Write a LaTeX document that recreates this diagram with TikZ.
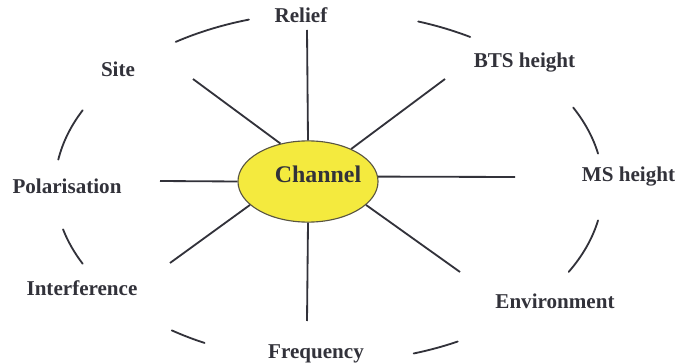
\documentclass[tikz,border=0pt]{standalone}
\usepackage{fontspec}
\setmainfont{Liberation Serif}
\usetikzlibrary{positioning, calc, shapes.geometric}

\definecolor{chanyellow}{RGB}{244,234,62}
\definecolor{inkgray}{RGB}{50,50,58}

\begin{document}
\begin{tikzpicture}[x=0.025cm, y=0.025cm,
    factor/.style={font=\bfseries\fontsize{15}{18}\selectfont, text=inkgray, anchor=base, inner sep=0pt},
    spoke/.style={draw=inkgray, line width=1.3pt},
    rim/.style={draw=inkgray, line width=1.3pt, line cap=round}]
    \useasboundingbox (0,0) rectangle (676,362);
    % channel in the middle
    \node[ellipse, draw=black!75!yellow, line width=0.8pt, fill=chanyellow, minimum width=3.5cm, minimum height=2.03cm, inner sep=0pt] (ch) at (308,180.5) {};
    \node[font=\bfseries\fontsize{17}{20}\selectfont, text=inkgray, anchor=base, inner sep=0pt] (chtext) at (318,179) {Channel};
    % factors
    \node[factor] (relief) at (301,339) {Relief};
    \node[factor] (site) at (118,285) {Site};
    \node[factor] (bts) at (524.5,294) {BTS height};
    \node[factor] (ms) at (628.5,180) {MS height};
    \node[factor] (polar) at (67,169) {Polarisation};
    \node[factor] (interf) at (82,67) {Interference};
    \node[factor] (freq) at (316,4) {Frequency};
    \node[factor] (env) at (555,54) {Environment};
    % spokes
    \coordinate (eRelief) at (307,332);
    \coordinate (eSite) at (193,283);
    \coordinate (eBts) at (445,283);
    \coordinate (eMs) at (515,185);
    \coordinate (ePolar) at (160,181);
    \coordinate (eInterf) at (170,99);
    \coordinate (eFreq) at (307,41);
    \coordinate (eEnv) at (460,90);
    \foreach \a/\e in {90/eRelief, 126/eSite, 37/eBts, 4/eMs, 180/ePolar, 202/eInterf, 270/eFreq, 338/eEnv}
        \draw[spoke] (ch.\a) -- (\e);
    % dashed outer ring
    \coordinate (O) at (329,175);
    \foreach \s/\t in {107/124, 59/71, 11/27, -29/-11, -72/-62, 235/243, 194/206, 154/171}
        \draw[rim] ([shift={(\s:6.85cm and 4.375cm)}]O) arc[start angle=\s, end angle=\t, x radius=6.85cm, y radius=4.375cm];
\end{tikzpicture}
\end{document}
